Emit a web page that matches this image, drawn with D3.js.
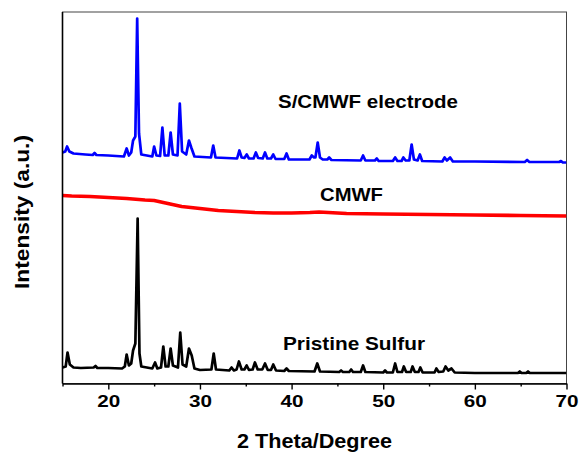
<!DOCTYPE html>
<html>
<head>
<meta charset="utf-8">
<script src="https://cdn.jsdelivr.net/npm/d3@7/dist/d3.min.js"></script>
<style>
    body { margin: 0; background: #fff; }
    text { font-family: "Liberation Sans", Arial, sans-serif; font-weight: bold; fill: #000; }
</style>
</head>
<body>
<div id="chart"></div>
<script>
// XRD patterns, [2 theta, stacked intensity (a.u.)]
var electrodeData = [
    [15.0, 231], [15.3, 232], [15.5, 237], [15.75, 232], [16.2, 230], [17.5, 229], [18.3, 228.5], [18.5, 230.5],
    [18.7, 228.5], [20, 228], [21.7, 227], [22.0, 235], [22.25, 228], [22.5, 231], [22.7, 243], [22.95, 247],
    [23.15, 365], [23.35, 250], [23.6, 229], [24.8, 227], [25.0, 237], [25.25, 228], [25.65, 227.5], [25.9, 256],
    [26.15, 228], [26.55, 228], [26.8, 251], [27.05, 229], [27.55, 228], [27.8, 280], [28.05, 232], [28.5, 229],
    [28.8, 243], [29.05, 236], [29.4, 227], [31.2, 226], [31.45, 238], [31.7, 226], [34.05, 225], [34.3, 233],
    [34.55, 226], [34.85, 225.5], [35.1, 229], [35.35, 225], [35.85, 225], [36.1, 231], [36.35, 225.5], [36.85, 225],
    [37.1, 231], [37.35, 225], [37.75, 225], [38.0, 229], [38.25, 224.5], [39.2, 224.5], [39.45, 230], [39.7, 224],
    [41.95, 224], [42.2, 228], [42.45, 226], [42.6, 226], [42.85, 241], [43.1, 226], [43.4, 224], [43.9, 224],
    [44.1, 226], [44.35, 223.5], [47.55, 223], [47.8, 228], [48.05, 223], [49.1, 223], [49.3, 225], [49.5, 222.5],
    [51.05, 222.5], [51.3, 226], [51.55, 222.5], [52.0, 222.5], [52.2, 226], [52.45, 223], [52.85, 223], [53.1, 239],
    [53.35, 224], [53.75, 223], [54.0, 229], [54.25, 222.5], [56.45, 222], [56.7, 226], [56.95, 223], [57.3, 226],
    [57.6, 222], [60, 222], [65.45, 221.5], [65.7, 223.5], [65.95, 221.5], [69.2, 221.5], [69.4, 222.5], [69.6, 221],
    [70, 221]
];

var cmwfData = [
    [15, 188], [16, 187.5], [18, 187], [20, 186], [22, 185], [24, 183.5], [25, 183], [26, 181], [27, 179],
    [28, 177], [29, 176], [30, 175], [32, 173], [34, 172], [36, 171], [38, 170.5], [40, 170.5], [42, 171],
    [43, 171.5], [44, 171], [46, 170], [50, 169.5], [55, 169], [60, 168.5], [65, 168], [70, 167.5]
];

var sulfurData = [
    [15.0, 16], [15.35, 17], [15.55, 31], [15.8, 19], [16.2, 16], [17, 15.5], [18.4, 16], [18.6, 17.5], [18.8, 15.5],
    [20, 15.5], [21.5, 15], [21.8, 17], [22.0, 29], [22.25, 18], [22.5, 20], [22.7, 33], [22.95, 40], [23.2, 165],
    [23.4, 30], [23.6, 17], [24.8, 15], [25.1, 21], [25.35, 15], [25.75, 16], [26.0, 37], [26.25, 17], [26.55, 17],
    [26.8, 35], [27.05, 18], [27.6, 16], [27.85, 51], [28.1, 19], [28.5, 17], [28.8, 35], [29.1, 28], [29.4, 15],
    [30, 13.5], [31.25, 14], [31.5, 30], [31.75, 14], [33.2, 13], [33.45, 16], [33.7, 13], [34.0, 14], [34.25, 22],
    [34.55, 14], [34.85, 14], [35.1, 18], [35.35, 13.5], [35.75, 14], [36.0, 21], [36.3, 14], [36.8, 14], [37.1, 20],
    [37.4, 13.5], [37.75, 13.5], [38.0, 19], [38.3, 13], [39.2, 12.5], [39.45, 15], [39.7, 12.5], [42.5, 12],
    [42.8, 20], [43.1, 12], [45.2, 11.5], [45.4, 13], [45.6, 11.5], [46.3, 11.5], [46.5, 14], [46.7, 11.5],
    [47.55, 11.5], [47.8, 18], [48.05, 11.5], [50, 11], [50.2, 13], [50.4, 11], [51.05, 11], [51.3, 20],
    [51.55, 11.5], [52.05, 11.5], [52.25, 17], [52.5, 11.5], [53.0, 11.5], [53.2, 17], [53.45, 11.5], [53.85, 11.5],
    [54.05, 16], [54.3, 11], [55.6, 11], [55.8, 15], [56.05, 11.5], [56.55, 12], [56.8, 17], [57.1, 13],
    [57.45, 15], [57.8, 11], [60, 10.5], [64.7, 10.5], [64.9, 12], [65.1, 10.5], [65.6, 10.5], [65.8, 12],
    [66, 10.5], [70, 10.5]
];

var seriesNames = ["S/CMWF electrode", "CMWF", "Pristine Sulfur"];
var seriesColors = ["#0000ff", "#ff0000", "#000000"];
var majorTicks = [20, 30, 40, 50, 60, 70];
var minorTicks = [15, 25, 35, 45, 55, 65];

var width = 582,
    height = 455,
    margin = { top: 12, right: 15.5, bottom: 71.5, left: 62.5 },
    plotW = width - margin.left - margin.right,
    plotH = height - margin.top - margin.bottom;

var svg = d3.select("#chart").append("svg")
    .attr("width", width)
    .attr("height", height);

var g = svg.append("g")
    .attr("transform", "translate(" + margin.left + "," + margin.top + ")");

var x = d3.scaleLinear().domain([15, 70]).range([0, plotW]);
var y = d3.scaleLinear().domain([0, 371.5]).range([plotH, 0]);

svg.append("defs").append("clipPath").attr("id", "plot-clip")
    .append("rect").attr("width", plotW).attr("height", plotH);

// frame: thin grey box, black left/bottom axes drawn over it
g.append("rect")
    .attr("width", plotW)
    .attr("height", plotH)
    .attr("fill", "none")
    .attr("stroke", "#444")
    .attr("stroke-width", 1);

var line = d3.line()
    .x(function (d) { return x(d[0]); })
    .y(function (d) { return y(d[1]); });

var lines = g.append("g").attr("clip-path", "url(#plot-clip)");
[electrodeData, cmwfData, sulfurData].forEach(function (data, i) {
    lines.append("path")
        .datum(data)
        .attr("fill", "none")
        .attr("stroke", seriesColors[i])
        .attr("stroke-width", i === 1 ? 3.6 : 2.7)
        .attr("stroke-linejoin", "round")
        .attr("d", line);
});

// x axis with major + minor ticks
var xAxis = g.append("g")
    .attr("transform", "translate(0," + plotH + ")")
    .call(d3.axisBottom(x).tickValues(majorTicks).tickSize(6).tickSizeOuter(0).tickPadding(6));

xAxis.select(".domain").attr("stroke", "#000").attr("stroke-width", 1.6);
xAxis.selectAll(".tick line").attr("stroke-width", 1.4);
xAxis.selectAll(".tick text")
    .attr("font-size", "16.5px")
    .attr("font-family", "Liberation Sans, Arial, sans-serif")
    .attr("font-weight", "bold")
    .attr("textLength", 23)
    .attr("lengthAdjust", "spacingAndGlyphs");

g.append("g")
    .attr("transform", "translate(0," + plotH + ")")
    .call(d3.axisBottom(x).tickValues(minorTicks).tickSize(3).tickSizeOuter(0).tickFormat(""))
    .call(function (a) {
        a.select(".domain").remove();
        a.selectAll(".tick line").attr("stroke-width", 1.4);
    });

// left axis, no ticks
g.append("line")
    .attr("x1", 0).attr("x2", 0)
    .attr("y1", 0).attr("y2", plotH)
    .attr("stroke", "#000")
    .attr("stroke-width", 1.6);

// axis titles
svg.append("text")
    .attr("x", 314.5)
    .attr("y", 448)
    .attr("text-anchor", "middle")
    .attr("font-size", "20.5px")
    .attr("textLength", 155)
    .attr("lengthAdjust", "spacingAndGlyphs")
    .text("2 Theta/Degree");

svg.append("text")
    .attr("transform", "translate(28.5,212) rotate(-90)")
    .attr("text-anchor", "middle")
    .attr("font-size", "21px")
    .attr("textLength", 154)
    .attr("lengthAdjust", "spacingAndGlyphs")
    .text("Intensity (a.u.)");

// series labels
var labelPos = [[278, 107.7, 180], [320, 201, 63], [283, 350, 142]];
seriesNames.forEach(function (name, i) {
    svg.append("text")
        .attr("x", labelPos[i][0])
        .attr("y", labelPos[i][1])
        .attr("font-size", "17.5px")
        .attr("textLength", labelPos[i][2])
        .attr("lengthAdjust", "spacingAndGlyphs")
        .text(name);
});
</script>
</body>
</html>
